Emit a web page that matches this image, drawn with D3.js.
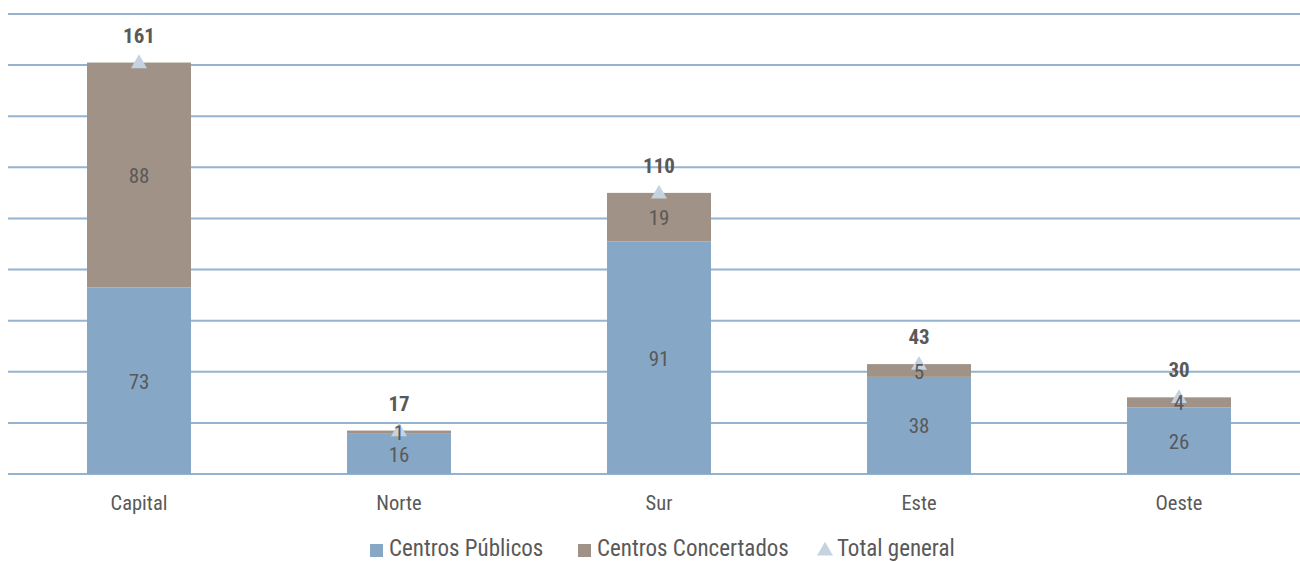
<!DOCTYPE html>
<html>
<head>
<meta charset="utf-8">
<script src="https://cdn.jsdelivr.net/npm/d3@7"></script>
<style>
  body { margin: 0; background: #fff; }
  svg text { font-family: "Liberation Sans Narrow", "Arial Narrow", "Roboto Condensed", sans-serif; }
</style>
</head>
<body>
<svg id="chart"></svg>
<script>
var categories = ['Capital', 'Norte', 'Sur', 'Este', 'Oeste'];
var publicos = [73, 16, 91, 38, 26];
var concertados = [88, 1, 19, 5, 4];
var totales = [161, 17, 110, 43, 30];
var gridTicks = [0, 20, 40, 60, 80, 100, 120, 140, 160, 180];
var seriesNames = ['Centros Públicos', 'Centros Concertados', 'Total general'];

var width = 1300;
var height = 562;
var colors = { pub: '#86a8c6', con: '#a09287', tot: '#c5d3e0', grid: '#95b3d0', text: '#595959' };

var svg = d3.select('#chart')
    .attr('width', width)
    .attr('height', height);

var x = d3.scaleBand()
    .domain(categories)
    .range([9, 1309])
    .paddingInner(0.6)
    .paddingOuter(0.3);

var y = d3.scaleLinear()
    .domain([0, 180])
    .range([474, 14]);

// gridlines
svg.append('g')
    .selectAll('line')
    .data(gridTicks)
    .enter()
    .append('line')
    .attr('x1', 8)
    .attr('x2', width)
    .attr('y1', d => y(d))
    .attr('y2', d => y(d))
    .attr('stroke', colors.grid)
    .attr('stroke-width', 2);

var rows = categories.map((c, i) => ({ cat: c, pub: publicos[i], con: concertados[i], tot: totales[i] }));
var stack = d3.stack().keys(['pub', 'con'])(rows);

svg.append('g')
    .selectAll('g')
    .data(stack)
    .enter()
    .append('g')
    .attr('fill', d => colors[d.key])
    .selectAll('rect')
    .data(d => d)
    .enter()
    .append('rect')
    .attr('x', d => x(d.data.cat))
    .attr('width', x.bandwidth())
    .attr('y', d => y(d[1]))
    .attr('height', d => y(d[0]) - y(d[1]));

// total markers (under the small segment labels, as in the original)
var tri = d3.symbol().type(d3.symbolTriangle).size(110);
svg.append('g')
    .selectAll('path')
    .data(rows)
    .enter()
    .append('path')
    .attr('d', tri)
    .attr('transform', d => `translate(${x(d.cat) + x.bandwidth() / 2}, ${y(d.tot) + 1})`)
    .attr('fill', colors.tot);

// segment labels
svg.append('g')
    .selectAll('g')
    .data(stack)
    .enter()
    .append('g')
    .selectAll('text')
    .data(d => d)
    .enter()
    .append('text')
    .attr('x', d => x(d.data.cat) + x.bandwidth() / 2)
    .attr('y', d => y((d[0] + d[1]) / 2) + 8)
    .attr('text-anchor', 'middle')
    .style('font-size', '21px')
    .style('fill', colors.text)
    .text(d => d[1] - d[0]);

svg.append('g')
    .selectAll('text')
    .data(rows)
    .enter()
    .append('text')
    .attr('x', d => x(d.cat) + x.bandwidth() / 2)
    .attr('y', d => y(d.tot) - 20)
    .attr('text-anchor', 'middle')
    .style('font-size', '21px')
    .style('font-weight', 'bold')
    .style('fill', colors.text)
    .text(d => d.tot);

// category labels
svg.append('g')
    .selectAll('text')
    .data(categories)
    .enter()
    .append('text')
    .attr('x', d => x(d) + x.bandwidth() / 2)
    .attr('y', 510)
    .attr('text-anchor', 'middle')
    .style('font-size', '20.5px')
    .style('fill', colors.text)
    .text(d => d);

// legend
var legendX = [370, 578, 818];
var legend = svg.append('g');
legend.append('rect').attr('x', legendX[0]).attr('y', 544).attr('width', 13).attr('height', 13).attr('fill', colors.pub);
legend.append('rect').attr('x', legendX[1]).attr('y', 544).attr('width', 13).attr('height', 13).attr('fill', colors.con);
legend.append('path')
    .attr('d', d3.symbol().type(d3.symbolTriangle).size(110))
    .attr('transform', `translate(${legendX[2] + 7}, 551)`)
    .attr('fill', colors.tot);
legend.selectAll('text')
    .data(seriesNames)
    .enter()
    .append('text')
    .attr('x', (d, i) => legendX[i] + 19)
    .attr('y', 556)
    .style('font-size', '23px')
    .style('fill', colors.text)
    .text(d => d);
</script>
</body>
</html>
